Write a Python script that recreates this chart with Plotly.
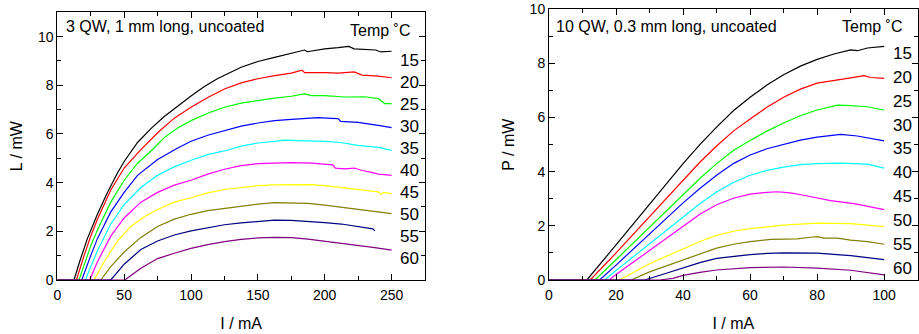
import plotly.graph_objects as go

# ---------------- data: left panel (3 QW, 1 mm) ----------------
temps = [15, 20, 25, 30, 35, 40, 45, 50, 55, 60]
colors = ["#000000", "#ff0000", "#00ff00", "#0000ff", "#00ffff",
          "#ff00ff", "#ffff00", "#808000", "#000080", "#800080"]

I_a15 = [0, 12.5, 17, 22.5, 30, 37.5, 45, 50, 60, 70, 80, 90, 100, 110, 120, 137.5, 150, 162.5, 175, 185, 187, 200, 210, 218, 222, 230, 238, 242, 250]
L_a15 = [0, 0, 0.8, 1.7, 2.7, 3.6, 4.4, 4.87, 5.65, 6.22, 6.72, 7.15, 7.56, 7.95, 8.28, 8.74, 8.98, 9.15, 9.3, 9.45, 9.38, 9.5, 9.55, 9.6, 9.5, 9.47, 9.45, 9.37, 9.4]
I_a20 = [0, 14.3, 20, 25, 30, 40, 50, 62, 75, 87.5, 100, 112.5, 125, 137.5, 145, 150, 162.5, 175, 183, 185, 200, 210, 222, 228, 240, 250]
L_a20 = [0, 0, 1.0, 1.8, 2.5, 3.7, 4.6, 5.33, 6.05, 6.65, 7.1, 7.5, 7.85, 8.1, 8.2, 8.27, 8.4, 8.5, 8.62, 8.52, 8.52, 8.5, 8.55, 8.42, 8.38, 8.31]
I_a25 = [0, 16.2, 20, 25, 30, 40, 50, 60, 70.7, 80, 90, 100, 112.5, 125, 137.5, 150, 162.5, 175, 185, 190, 200, 215, 230, 240, 245, 250]
L_a25 = [0, 0, 0.6, 1.4, 2.05, 3.2, 4.1, 4.8, 5.33, 5.85, 6.25, 6.55, 6.85, 7.1, 7.27, 7.38, 7.47, 7.55, 7.65, 7.58, 7.58, 7.52, 7.53, 7.45, 7.25, 7.25]
I_a30 = [0, 18.3, 25, 30, 40, 50, 60, 75, 89.4, 100, 112.5, 125, 137.5, 150, 162.5, 175, 185, 195, 205, 210, 212, 225, 240, 250]
L_a30 = [0, 0, 1.0, 1.7, 2.8, 3.6, 4.3, 4.95, 5.4, 5.7, 5.95, 6.15, 6.32, 6.45, 6.55, 6.6, 6.63, 6.67, 6.64, 6.63, 6.52, 6.48, 6.35, 6.26]
I_a35 = [0, 21, 25, 30, 40, 50, 62.5, 75, 87.5, 100, 112.5, 127, 137.5, 150, 162.5, 170, 185, 200, 212, 225, 240, 250]
L_a35 = [0, 0, 0.55, 1.2, 2.3, 3.1, 3.8, 4.3, 4.65, 4.92, 5.15, 5.33, 5.5, 5.63, 5.7, 5.75, 5.72, 5.7, 5.65, 5.53, 5.45, 5.33]
I_a40 = [0, 24.3, 30, 40, 50, 62.5, 75, 87.5, 100, 112.5, 125, 137.5, 150, 162.5, 175, 190, 200, 206, 208, 215, 222, 228, 235, 240, 250]
L_a40 = [0, 0, 0.75, 1.8, 2.55, 3.2, 3.6, 3.9, 4.1, 4.35, 4.55, 4.7, 4.78, 4.81, 4.82, 4.8, 4.77, 4.73, 4.6, 4.57, 4.6, 4.5, 4.42, 4.35, 4.3]
I_a45 = [0, 27.5, 35, 45, 55, 65, 75, 87.5, 100, 112.5, 125, 137.5, 150, 162.5, 175, 190, 200, 220, 240, 242, 244, 250]
L_a45 = [0, 0, 0.75, 1.6, 2.2, 2.6, 2.9, 3.2, 3.38, 3.58, 3.72, 3.8, 3.88, 3.91, 3.92, 3.92, 3.88, 3.76, 3.62, 3.52, 3.6, 3.55]
I_a50 = [0, 32.5, 40, 50, 62.5, 75, 87.5, 100, 112.5, 125, 137.5, 150, 162.5, 175, 187.5, 200, 212.5, 225, 237.5, 250]
L_a50 = [0, 0, 0.55, 1.15, 1.75, 2.2, 2.5, 2.7, 2.85, 2.95, 3.03, 3.12, 3.18, 3.17, 3.15, 3.08, 3.0, 2.9, 2.82, 2.73]
I_a55 = [0, 40, 50, 62.5, 75, 87.5, 100, 112.5, 125, 137.5, 150, 162.5, 175, 187.5, 200, 212.5, 225, 236, 237.5]
L_a55 = [0, 0, 0.65, 1.25, 1.6, 1.85, 2.02, 2.15, 2.27, 2.35, 2.42, 2.46, 2.45, 2.42, 2.36, 2.3, 2.19, 2.1, 2.02]
I_a60 = [0, 50.5, 62.5, 75, 87.5, 100, 112.5, 125, 137.5, 150, 162.5, 175, 187.5, 200, 212.5, 225, 237.5, 250]
L_a60 = [0, 0, 0.48, 0.88, 1.1, 1.3, 1.45, 1.58, 1.67, 1.73, 1.75, 1.74, 1.68, 1.6, 1.52, 1.44, 1.33, 1.23]

# ---------------- data: right panel (10 QW, 0.3 mm) ----------------
I_b15 = [0, 11.3, 20, 30, 40, 45, 50, 55, 60, 65, 70, 75, 80, 85, 90, 92, 95, 100]
P_b15 = [0, 0, 1.3, 2.8, 4.3, 5.0, 5.65, 6.25, 6.75, 7.2, 7.58, 7.9, 8.15, 8.35, 8.5, 8.47, 8.57, 8.63]
I_b20 = [0, 12.3, 20, 30, 40, 45, 50, 55, 60, 65, 70, 75, 80, 85, 90, 94, 96, 100]
P_b20 = [0, 0, 1.0, 2.35, 3.7, 4.35, 4.95, 5.5, 5.95, 6.38, 6.75, 7.05, 7.27, 7.38, 7.47, 7.55, 7.48, 7.45]
I_b25 = [0, 13.7, 20, 30, 40, 45, 50, 55, 60, 65, 70, 75, 80, 86, 90, 95, 100]
P_b25 = [0, 0, 0.75, 1.95, 3.15, 3.75, 4.3, 4.78, 5.15, 5.5, 5.8, 6.07, 6.28, 6.46, 6.44, 6.4, 6.27]
I_b30 = [0, 15.1, 20, 30, 40, 45, 50, 55, 60, 65, 70, 75, 80, 87, 92, 100]
P_b30 = [0, 0, 0.55, 1.7, 2.85, 3.38, 3.87, 4.3, 4.62, 4.85, 5.02, 5.17, 5.28, 5.38, 5.32, 5.14]
I_b35 = [0, 16.6, 20, 30, 40, 45, 50, 55, 60, 65, 70, 75, 80, 87, 95, 100]
P_b35 = [0, 0, 0.35, 1.35, 2.35, 2.82, 3.25, 3.6, 3.87, 4.05, 4.17, 4.26, 4.3, 4.32, 4.28, 4.13]
I_b40 = [0, 17.9, 20, 30, 40, 45, 50, 55, 60, 64, 68, 72, 76, 84, 91, 100]
P_b40 = [0, 0, 0.2, 1.1, 2.0, 2.43, 2.78, 3.02, 3.17, 3.23, 3.26, 3.22, 3.13, 2.93, 2.82, 2.6]
I_b45 = [0, 21, 30, 40, 45, 50, 55, 60, 65, 70, 80, 90, 100]
P_b45 = [0, 0, 0.6, 1.15, 1.42, 1.65, 1.8, 1.9, 1.97, 2.03, 2.1, 2.08, 1.97]
I_b50 = [0, 24.5, 30, 40, 45, 50, 55, 60, 66, 70, 74, 78, 80, 82, 86, 90, 95, 100]
P_b50 = [0, 0, 0.3, 0.75, 0.98, 1.18, 1.32, 1.42, 1.5, 1.52, 1.52, 1.58, 1.6, 1.55, 1.55, 1.47, 1.42, 1.32]
I_b55 = [0, 28.5, 35, 40, 45, 50, 55, 60, 65, 70, 80, 90, 100]
P_b55 = [0, 0, 0.25, 0.45, 0.64, 0.8, 0.88, 0.94, 0.98, 1.0, 0.99, 0.9, 0.75]
I_b60 = [0, 33, 37, 40, 45, 50, 60, 70, 80, 90, 100]
P_b60 = [0, 0, 0.06, 0.17, 0.28, 0.37, 0.46, 0.48, 0.44, 0.36, 0.19]

left_I = [I_a15, I_a20, I_a25, I_a30, I_a35, I_a40, I_a45, I_a50, I_a55, I_a60]
left_L = [L_a15, L_a20, L_a25, L_a30, L_a35, L_a40, L_a45, L_a50, L_a55, L_a60]
right_I = [I_b15, I_b20, I_b25, I_b30, I_b35, I_b40, I_b45, I_b50, I_b55, I_b60]
right_P = [P_b15, P_b20, P_b25, P_b30, P_b35, P_b40, P_b45, P_b50, P_b55, P_b60]

left_title = "3 QW, 1 mm long, uncoated"
right_title = "10 QW, 0.3 mm long, uncoated"
legend_head = "Temp ˚C"

# label positions (layout, not data)
left_label_y = [9.0 - 0.9 * k for k in range(10)]
right_label_y = [8.37 - 0.882 * k for k in range(10)]

FONT = "Liberation Sans, Arial, Helvetica, sans-serif"

fig = go.Figure()
for xs, ys, c, t in zip(left_I, left_L, colors, temps):
    fig.add_trace(go.Scatter(x=xs, y=ys, mode="lines", line=dict(color=c, width=1.2),
                             name=f"{t} °C", xaxis="x", yaxis="y", showlegend=False))
for xs, ys, c, t in zip(right_I, right_P, colors, temps):
    fig.add_trace(go.Scatter(x=xs, y=ys, mode="lines", line=dict(color=c, width=1.2),
                             name=f"{t} °C", xaxis="x2", yaxis="y2", showlegend=False))

ann = []
for t, y in zip(temps, left_label_y):
    ann.append(dict(x=263.5, y=y, xref="x", yref="y", text=str(t), showarrow=False,
                    xanchor="center", yanchor="middle", font=dict(size=17, color="black", family=FONT)))
for t, y in zip(temps, right_label_y):
    ann.append(dict(x=105.6, y=y, xref="x2", yref="y2", text=str(t), showarrow=False,
                    xanchor="center", yanchor="middle", font=dict(size=17, color="black", family=FONT)))
ann.append(dict(x=241.4, y=10.25, xref="x", yref="y", text=legend_head, showarrow=False,
                xanchor="center", yanchor="middle", font=dict(size=16, color="black", family=FONT)))
ann.append(dict(x=96.4, y=9.37, xref="x2", yref="y2", text=legend_head, showarrow=False,
                xanchor="center", yanchor="middle", font=dict(size=16, color="black", family=FONT)))
ann.append(dict(x=4.8, y=10.41, xref="x", yref="y", text=left_title, showarrow=False,
                xanchor="left", yanchor="middle", font=dict(size=16, color="black", family=FONT)))
ann.append(dict(x=1.6, y=9.37, xref="x2", yref="y2", text=right_title, showarrow=False,
                xanchor="left", yanchor="middle", font=dict(size=16, color="black", family=FONT)))

def ax(domain, rng, dtick, mdtick, title, standoff, labelgap):
    return dict(domain=domain, range=rng, dtick=dtick, tick0=0, showgrid=False, zeroline=False,
                showline=True, linecolor="black", linewidth=1, mirror="allticks",
                ticks="inside", ticklen=6, tickwidth=1, tickcolor="black",
                ticklabelstandoff=labelgap,
                tickfont=dict(size=14, color="black", family=FONT),
                minor=dict(dtick=mdtick, tick0=0, ticks="inside", ticklen=4, tickwidth=1,
                           tickcolor="black", showgrid=False),
                title=dict(text=title, font=dict(size=16, color="black", family=FONT), standoff=standoff),
                automargin=False, fixedrange=True)

W, H = 919, 334
fig.update_layout(
    width=W, height=H, margin=dict(l=0, r=0, t=0, b=0),
    paper_bgcolor="white", plot_bgcolor="white",
    font=dict(family=FONT, color="black"),
    hovermode=False,
    xaxis=ax([57.3 / W, 425 / W], [0, 275], 50, 25, "I / mA", 16, 2),
    yaxis=ax([(H - 280) / H, (H - 12.3) / H], [0, 11], 2, 1, "L / mW", 11, 0),
    xaxis2=ax([549 / W, 917.7 / W], [0, 110], 20, 10, "I / mA", 16, 2),
    yaxis2=ax([(H - 280) / H, (H - 9.3) / H], [0, 10], 2, 1, "P / mW", 11, 0),
    annotations=ann,
)
fig.update_layout(xaxis=dict(anchor="y"), yaxis=dict(anchor="x"),
                  xaxis2=dict(anchor="y2"), yaxis2=dict(anchor="x2"))

# remove the default page margin so the figure sits at the window's top-left corner
fig.write_html("out.html", config={"displayModeBar": False},
               post_script="document.body.style.margin='0px';")
